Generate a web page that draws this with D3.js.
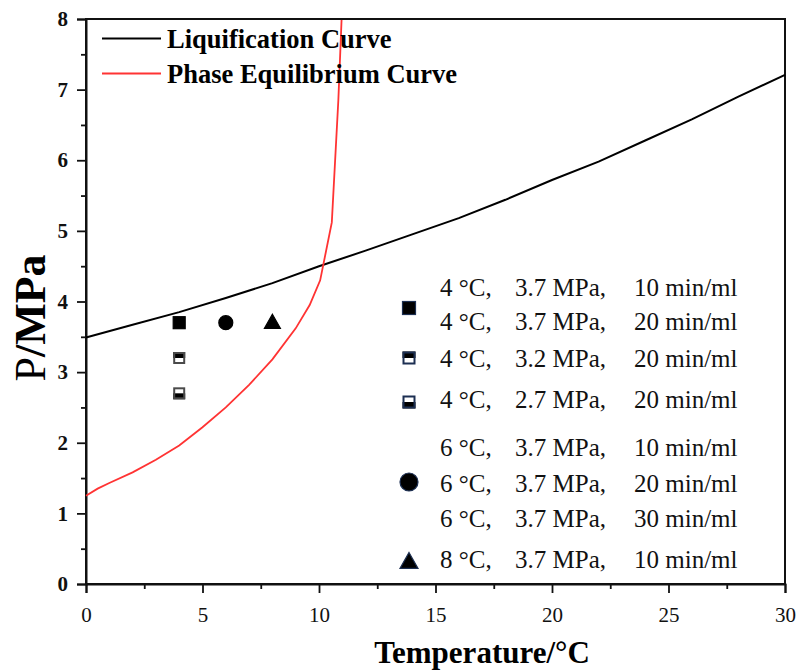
<!DOCTYPE html>
<html>
<head>
<meta charset="utf-8">
<script src="https://cdn.jsdelivr.net/npm/d3@7"></script>
<style>
  html, body { margin: 0; padding: 0; background: #fff; }
  svg { display: block; font-family: "Liberation Serif", "Times New Roman", serif; }
</style>
</head>
<body>
<svg id="chart" width="798" height="671"></svg>
<script>
// Liquification curve (temperature in °C, pressure in MPa)
const liqT = [0, 2, 4, 6, 8, 10, 12, 14, 16, 18, 20, 22, 24, 26, 28, 30];
const liqP = [3.49, 3.67, 3.85, 4.05, 4.26, 4.50, 4.72, 4.95, 5.18, 5.44, 5.72, 5.98, 6.28, 6.58, 6.90, 7.21];

// Phase equilibrium curve
const eqT = [0, 0.5, 1, 2, 3, 4, 5, 6, 7, 8, 9, 9.6, 10.05, 10.55, 10.83, 10.97];
const eqP = [1.25, 1.35, 1.43, 1.58, 1.76, 1.96, 2.22, 2.50, 2.82, 3.18, 3.62, 3.95, 4.30, 5.12, 6.85, 8.0];

// Experimental conditions
const expT = [4, 4, 4, 6, 8];
const expP = [3.7, 3.2, 2.7, 3.7, 3.7];
const expShape = ["square", "halfTop", "halfBottom", "circle", "triangle"];

// Legend entries for the experiments
const legTemp = ["4 °C,", "4 °C,", "4 °C,", "4 °C,", "6 °C,", "6 °C,", "6 °C,", "8 °C,"];
const legPress = ["3.7 MPa,", "3.7 MPa,", "3.2 MPa,", "2.7 MPa,", "3.7 MPa,", "3.7 MPa,", "3.7 MPa,", "3.7 MPa,"];
const legRate = ["10 min/ml", "20 min/ml", "20 min/ml", "20 min/ml", "10 min/ml", "20 min/ml", "30 min/ml", "10 min/ml"];
const legShape = ["square", "halfTop", "halfBottom", "circle", "triangle"];

// Axis ticks
const xTicks = [0, 5, 10, 15, 20, 25, 30];
const yTicks = [0, 1, 2, 3, 4, 5, 6, 7, 8];

const curveNames = ["Liquification Curve", "Phase Equilibrium Curve"];

const svg = d3.select("#chart");
const L = 86, R = 785, T = 19, B = 584;
const x = d3.scaleLinear().domain([0, 30]).range([L, R]);
const y = d3.scaleLinear().domain([0, 8]).range([B, T]);

const axisColor = "#111";
const serif = "Liberation Serif, Times New Roman, serif";

// frame
svg.append("rect").attr("x", L).attr("y", T).attr("width", R - L).attr("height", B - T)
  .attr("fill", "none").attr("stroke", axisColor).attr("stroke-width", 2);

// minor ticks
const xMinor = d3.range(0, 30.01, 2.5).filter(v => v % 5 !== 0);
const yMinor = d3.range(0, 8.01, 0.5).filter(v => v % 1 !== 0);

const xAxis = svg.append("g").attr("transform", `translate(0,${B})`)
  .call(d3.axisBottom(x).tickValues(xTicks).tickSize(9).tickPadding(14).tickFormat(d3.format("d")));
svg.append("g").attr("transform", `translate(0,${B})`)
  .call(d3.axisBottom(x).tickValues(xMinor).tickSize(5).tickFormat(""))
  .call(g => g.select(".domain").remove());

const yAxis = svg.append("g").attr("transform", `translate(${L},0)`)
  .call(d3.axisLeft(y).tickValues(yTicks).tickSize(9).tickPadding(9).tickFormat(d3.format("d")));
svg.append("g").attr("transform", `translate(${L},0)`)
  .call(d3.axisLeft(y).tickValues(yMinor).tickSize(5).tickFormat(""))
  .call(g => g.select(".domain").remove());

svg.selectAll(".tick line").attr("stroke", axisColor).attr("stroke-width", 1.8);
svg.selectAll(".domain").attr("stroke", axisColor).attr("stroke-width", 2);
xAxis.selectAll(".tick text").style("font-family", serif).attr("font-size", 21).attr("fill", "#111");
yAxis.selectAll(".tick text").style("font-family", serif).attr("font-size", 21).attr("font-weight", "bold").attr("fill", "#111");

// axis titles
svg.append("text").attr("x", 482).attr("y", 663).attr("text-anchor", "middle")
  .attr("font-size", 31).attr("font-weight", "bold").attr("fill", "#000").text("Temperature/°C");
const yt = svg.append("text").attr("transform", "translate(45,318) rotate(-90)")
  .attr("text-anchor", "middle").attr("font-size", 44).attr("fill", "#000");
yt.append("tspan").text("P");
yt.append("tspan").attr("font-weight", "bold").text("/MPa");

// curves
const line = d3.line().x(d => x(d[0])).y(d => y(d[1]));
svg.append("path").datum(liqT.map((t, i) => [t, liqP[i]]))
  .attr("d", line).attr("fill", "none").attr("stroke", "#000").attr("stroke-width", 2);
svg.append("path").datum(eqT.map((t, i) => [t, eqP[i]]))
  .attr("d", line).attr("fill", "none").attr("stroke", "#ff3333").attr("stroke-width", 1.8);

// re-draw top frame edge above the curve
svg.append("line").attr("x1", L).attr("x2", R).attr("y1", T).attr("y2", T)
  .attr("stroke", axisColor).attr("stroke-width", 2);

// marker drawing
function marker(g, shape, cx, cy, s, stroke) {
  const h = s / 2;
  if (shape === "square") {
    g.append("rect").attr("x", cx - h).attr("y", cy - h).attr("width", s).attr("height", s)
      .attr("fill", "#000").attr("stroke", stroke).attr("stroke-width", 1.2);
  } else if (shape === "halfTop" || shape === "halfBottom") {
    g.append("rect").attr("x", cx - h).attr("y", cy - h).attr("width", s).attr("height", s)
      .attr("fill", "#fff");
    g.append("rect").attr("x", cx - h).attr("y", shape === "halfTop" ? cy - h : cy).attr("width", s).attr("height", h)
      .attr("fill", "#000");
    g.append("rect").attr("x", cx - h + 1).attr("y", cy - h + 1).attr("width", s - 2).attr("height", s - 2)
      .attr("fill", "none").attr("stroke", stroke).attr("stroke-width", 2);
  } else if (shape === "circle") {
    g.append("circle").attr("cx", cx).attr("cy", cy).attr("r", h)
      .attr("fill", "#000").attr("stroke", stroke).attr("stroke-width", 1.2);
  } else if (shape === "triangle") {
    const th = s * 0.88;
    g.append("path")
      .attr("d", `M${cx},${cy - th * 0.6}L${cx + h},${cy + th * 0.4}L${cx - h},${cy + th * 0.4}Z`)
      .attr("fill", "#000").attr("stroke", stroke).attr("stroke-width", 1.2);
  }
}

const pts = svg.append("g");
const plotSize = { square: 12, halfTop: 12, halfBottom: 12, circle: 14, triangle: 16 };
expT.forEach((t, i) => {
  marker(pts, expShape[i], x(t), y(expP[i]), plotSize[expShape[i]], expShape[i].startsWith("half") ? "#4a4a4a" : "#000");
});

// curve legend
const curveColors = ["#000", "#ff3333"];
const curveWidths = [2, 1.8];
const curveLegY = [38.5, 73.5];
curveNames.forEach((n, i) => {
  svg.append("line").attr("x1", 102).attr("x2", 161).attr("y1", curveLegY[i]).attr("y2", curveLegY[i])
    .attr("stroke", curveColors[i]).attr("stroke-width", curveWidths[i]);
  svg.append("text").attr("x", 167).attr("y", curveLegY[i] + 9.5)
    .attr("font-size", 26.5).attr("font-weight", "bold").attr("fill", "#000").text(n);
});

// experiment legend
const rowBase = [296, 330, 367, 408, 456, 491.5, 526.5, 568];
const legText = svg.append("g").attr("font-size", 25).attr("fill", "#111");
legTemp.forEach((s, i) => {
  legText.append("text").attr("x", 440).attr("y", rowBase[i]).text(s);
  legText.append("text").attr("x", 515).attr("y", rowBase[i]).text(legPress[i]);
  legText.append("text").attr("x", 634).attr("y", rowBase[i]).text(legRate[i]);
});
const legMarkY = [308, 358, 402, 482, 562];
const legSize = { square: 13, halfTop: 13, halfBottom: 13, circle: 18, triangle: 18 };
const legG = svg.append("g");
legShape.forEach((s, i) => marker(legG, s, 409, legMarkY[i], legSize[s], "#1c2f52"));
</script>
</body>
</html>
